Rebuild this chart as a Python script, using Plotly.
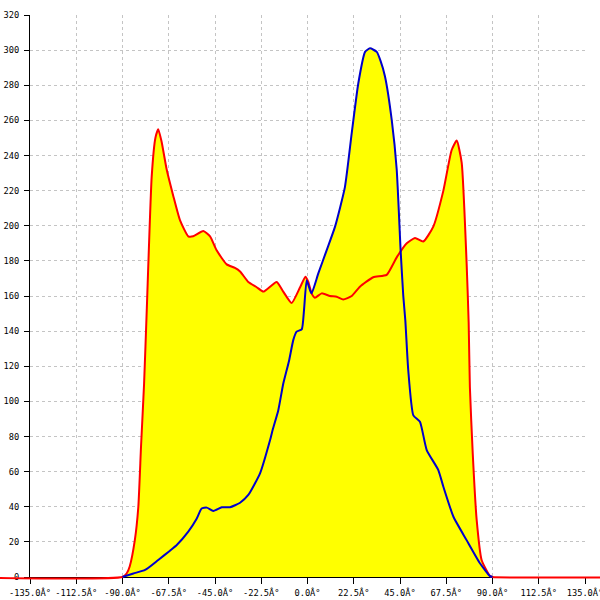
import plotly.graph_objects as go

# --- angle distribution ---
red_x = [-180, -90, -88, -86.5, -84, -82.3, -81, -79.5, -78.2, -75.8, -74, -72.6,
         -71, -68.5, -65.3, -62, -58, -55.6, -50.7, -47.4, -44.2, -39.3, -35.3,
         -32.8, -28.8, -24.7, -21.5, -15, -11.8, -7.7, -3.6, -1, 0.4, 2, 3.6, 6.9,
         10.9, 14.2, 17.4, 21.5, 25.5, 32, 38.5, 43.4, 48.3, 52.3, 56.3, 61.2,
         66.1, 70.1, 72.6, 75, 77.4, 78.4, 79, 80.4, 82.3, 84.7, 88.8, 90, 180]
red_y = [0, 0, 2, 6, 21, 40, 74, 110, 152, 228, 250, 255,
         248, 232, 217, 203, 194, 194, 197, 194, 186, 178, 176,
         174, 168, 165, 162.5, 168, 162.5, 156, 165, 171, 168, 161.5, 159, 161.5,
         160, 159.6, 158, 160, 165.3, 170.7, 172, 182, 190, 193, 191, 199.5,
         220, 243, 248.5, 236, 179, 145, 108, 70, 32.5, 9.7, 0.5, 0, 0]

blue_x = [-90, -84.7, -79, -72.6, -66.9, -63.6, -58, -54, -51.5, -49, -45.8, -41.7,
          -37.7, -32.8, -28.8, -23.1, -18.2, -16.9, -14.2, -11.8, -9, -6.9, -5.3,
          -2.8, -1.7, -0.4, 1.2, 2, 5.3, 9.3, 13.4, 18.2, 21.5, 24.7, 28, 30.4,
          33.7, 35.5, 37.7, 41, 43.4, 45.3, 46.6, 47.6, 49, 51.5, 54.7, 58, 63.6,
          66.1, 71, 77.4, 83.9, 88.8, 90]
blue_y = [0, 2, 4, 9.7, 15, 18.2, 25.8, 33, 39, 39.5, 37.6, 39.7,
          39.7, 42.3, 46.7, 59, 78, 84, 95, 110, 123, 135, 139.7,
          141, 152, 169, 163.4, 161.5, 173, 186, 199.5, 222, 252.6, 281, 299, 301,
          299, 294, 285, 260, 232, 186, 160, 146, 118, 92, 88.4, 72.3, 61,
          51.4, 34.3, 21, 7.8, 0.5, 0]

x_ticks = [-135 + 22.5 * i for i in range(13)]
x_labels = [f"{v:.1f}Â°" for v in x_ticks]
y_ticks = list(range(0, 321, 20))

# plot area in page pixels (600x600 page)
W, H = 600, 600
left, right, top, bottom = 30, 585, 15, 577
xd = [left / W, right / W]
yd = [1 - bottom / H, 1 - top / H]
x_rng = [-135, 135]
y_rng = [0, 320]

# full-width twin axes so the red baseline runs past the frame like the original
sx = (x_rng[1] - x_rng[0]) / (xd[1] - xd[0])
x2_rng = [x_rng[0] - sx * xd[0], x_rng[1] + sx * (1 - xd[1])]
sy = (y_rng[1] - y_rng[0]) / (yd[1] - yd[0])
y2_rng = [y_rng[0] - sy * yd[0], y_rng[1]]

FILL = "#ffff00"
RED = "#ff0000"
BLUE = "#0000cc"
GRID = "#c4c4c4"
tick_font = dict(family="DejaVu Sans Mono", size=8.7, color="black")
curve = dict(shape="spline", smoothing=0.5)

fig = go.Figure()

# yellow areas under both curves
fig.add_trace(go.Scatter(x=red_x, y=red_y, fill="tozeroy", fillcolor=FILL,
                         mode="lines", line=dict(width=0, **curve), hoverinfo="skip"))
fig.add_trace(go.Scatter(x=blue_x, y=blue_y, fill="tozeroy", fillcolor=FILL,
                         mode="lines", line=dict(width=0, **curve), hoverinfo="skip"))

# outlines on the full-width twin subplot
fig.add_trace(go.Scatter(x=red_x, y=red_y, mode="lines", xaxis="x2", yaxis="y2",
                         line=dict(color=RED, width=2, **curve)))
fig.add_trace(go.Scatter(x=blue_x, y=blue_y, mode="lines", xaxis="x2", yaxis="y2",
                         line=dict(color=BLUE, width=2, **curve)))

fig.update_layout(
    width=W, height=H,
    margin=dict(l=0, r=0, t=0, b=0, pad=0),
    paper_bgcolor="white",
    plot_bgcolor="rgba(0,0,0,0)",
    showlegend=False,
    template="none",
    xaxis=dict(domain=xd, range=x_rng, anchor="y", tickvals=x_ticks, ticktext=x_labels,
               tickfont=tick_font, ticks="outside", ticklen=6, tickcolor="black",
               tickangle=0, ticklabeloverflow="allow", ticklabelstandoff=2,
               showline=True, linecolor="black", linewidth=1,
               showgrid=True, gridcolor=GRID, griddash="3px,3px", gridwidth=1,
               zeroline=False, automargin=False),
    yaxis=dict(domain=yd, range=y_rng, anchor="x", tickvals=y_ticks,
               tickfont=tick_font, ticks="outside", ticklen=5, tickcolor="black",
               ticklabeloverflow="allow", ticklabelstandoff=3,
               showline=True, linecolor="black", linewidth=1,
               showgrid=True, gridcolor=GRID, griddash="3px,3px", gridwidth=1,
               zeroline=False, automargin=False),
    yaxis3=dict(overlaying="y", anchor="x", side="left", range=y_rng, tickvals=y_ticks,
                ticks="inside", ticklen=4, tickcolor="black", showticklabels=False,
                showgrid=False, zeroline=False, showline=False),
    yaxis4=dict(overlaying="y", anchor="x", side="right", range=y_rng,
                ticks="", showticklabels=False, showgrid=False, zeroline=False,
                showline=True, linecolor="black", linewidth=1),
    xaxis2=dict(domain=[0, 1], range=x2_rng, anchor="y2", visible=False),
    yaxis2=dict(domain=[0, yd[1]], range=y2_rng, anchor="x2", visible=False),
)

# drop the default page margin so the 600x600 figure sits at the window origin
fig.write_html("out.html", config={"displayModeBar": False},
               post_script="document.body.style.margin='0';")
